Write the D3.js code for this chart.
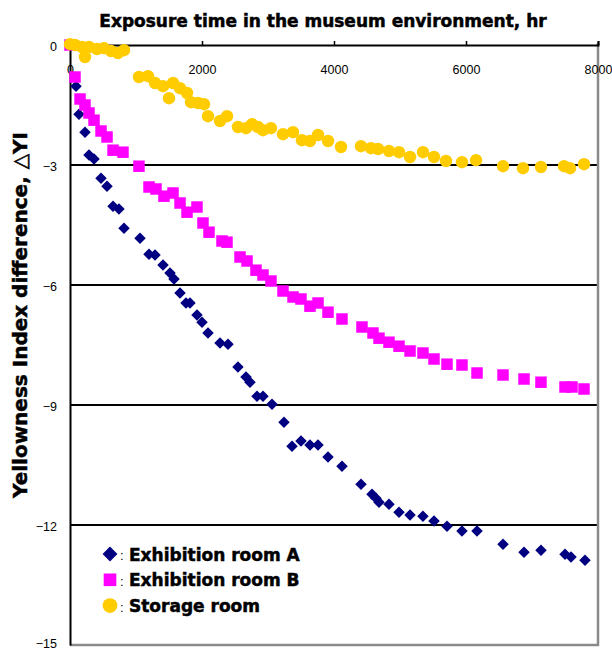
<!DOCTYPE html>
<html>
<head>
<meta charset="utf-8">
<script src="https://cdn.jsdelivr.net/npm/d3@7"></script>
<style>
  body { margin: 0; background: #fff; }
</style>
</head>
<body>
<div id="chart"></div>
<script>
// values
const hoursA = [0, 91, 136, 227, 288, 364, 470, 561, 652, 742, 818, 1061, 1197, 1288, 1409, 1515, 1576, 1667, 1758, 1818,
    1924, 2000, 2091, 2273, 2394, 2545, 2667, 2727, 2833, 2924, 3061, 3242, 3364, 3500, 3636, 3758, 3909, 4121, 4409,
    4576, 4636, 4682, 4833, 4985, 5152, 5348, 5515, 5712, 5939, 6167, 6561, 6879, 7136, 7500, 7591, 7803];
const yiA = [0, -1.03, -1.73, -2.18, -2.75, -2.85, -3.33, -3.53, -4.03, -4.10, -4.58, -4.83, -5.23, -5.25, -5.50, -5.70, -5.85,
    -6.20, -6.45, -6.45, -6.75, -6.93, -7.20, -7.45, -7.48, -8.05, -8.30, -8.43, -8.78, -8.78, -8.98, -9.43, -10.03, -9.90,
    -10.00, -10.00, -10.30, -10.53, -10.98, -11.23, -11.33, -11.43, -11.48, -11.68, -11.75, -11.78, -11.90, -12.03, -12.15,
    -12.15, -12.48, -12.68, -12.63, -12.73, -12.80, -12.88];

const hoursB = [0, 76, 152, 227, 288, 364, 470, 561, 652, 803, 1045, 1197, 1303, 1424, 1561, 1667, 1773, 1924, 2015, 2106,
    2303, 2379, 2576, 2682, 2818, 2924, 3045, 3227, 3379, 3500, 3636, 3758, 3909, 4121, 4424, 4591, 4682, 4833, 4985,
    5152, 5348, 5515, 5712, 5939, 6167, 6561, 6879, 7136, 7500, 7606, 7788];
const yiB = [0, -0.80, -1.35, -1.50, -1.70, -1.88, -2.15, -2.30, -2.63, -2.68, -3.03, -3.55, -3.60, -3.78, -3.70, -3.95, -4.18,
    -4.05, -4.45, -4.68, -4.90, -4.93, -5.30, -5.40, -5.63, -5.75, -5.90, -6.15, -6.30, -6.35, -6.53, -6.45, -6.68, -6.85,
    -7.05, -7.20, -7.33, -7.43, -7.53, -7.65, -7.70, -7.85, -7.98, -8.00, -8.20, -8.25, -8.35, -8.43, -8.55, -8.55, -8.60];

const hoursS = [0, 76, 182, 227, 288, 409, 515, 621, 727, 818, 1045, 1182, 1288, 1409, 1500, 1561, 1667, 1773, 1833, 1939,
    2030, 2091, 2273, 2379, 2545, 2667, 2758, 2848, 2924, 3045, 3227, 3379, 3515, 3636, 3758, 3909, 4106, 4409, 4561,
    4667, 4833, 4985, 5152, 5348, 5515, 5697, 5939, 6152, 6561, 6864, 7136, 7485, 7576, 7788];
const yiS = [0.02, 0, -0.05, -0.30, -0.05, -0.10, -0.08, -0.15, -0.20, -0.13, -0.80, -0.78, -0.95, -1.03, -1.33, -0.95, -1.08,
    -1.20, -1.43, -1.45, -1.48, -1.78, -1.90, -1.78, -2.05, -2.08, -1.98, -2.05, -2.13, -2.08, -2.23, -2.18, -2.38, -2.40,
    -2.25, -2.40, -2.55, -2.53, -2.58, -2.60, -2.65, -2.68, -2.80, -2.68, -2.80, -2.90, -2.93, -2.88, -3.03, -3.08, -3.05,
    -3.03, -3.08, -2.98];

const seriesNames = ["Exhibition room A", "Exhibition room B", "Storage room"];
const xTicks = [0, 2000, 4000, 6000, 8000];
const yTicks = [0, -3, -6, -9, -12, -15];

const width = 612;
const height = 652;

const x = d3.scaleLinear().domain([0, 8000]).range([70, 598]);
const y = d3.scaleLinear().domain([0, -15]).range([45, 645]);

const svg = d3.select('#chart').append('svg')
    .attr('width', width)
    .attr('height', height)
    .style('background', '#fff');

const boldFont = "'DejaVu Sans', sans-serif";
const tickFont = "'Liberation Sans', Arial, sans-serif";

// gridlines
svg.append('g')
   .selectAll('line')
   .data(yTicks.slice(1, -1))
   .enter()
   .append('line')
   .attr('x1', x(0))
   .attr('x2', x(8000))
   .attr('y1', d => y(d))
   .attr('y2', d => y(d))
   .attr('stroke', '#000')
   .attr('stroke-width', 2);

// right and bottom border (grey)
svg.append('path')
   .attr('d', `M${x(8000)},${y(0) - 2}V${y(-15)}H${x(0)}`)
   .attr('fill', 'none')
   .attr('stroke', '#8a8a8a')
   .attr('stroke-width', 2.5);

// x axis on top, labels inside the plot
const xAxis = d3.axisTop(x)
    .tickValues(xTicks)
    .tickSize(4)
    .tickFormat(d3.format('d'));

const gx = svg.append('g')
    .attr('transform', `translate(0,${y(0)})`)
    .call(xAxis);
gx.select('.domain').attr('stroke', '#000').attr('stroke-width', 2);
gx.selectAll('.tick line').attr('stroke', '#000').attr('stroke-width', 1.5);
gx.selectAll('.tick text')
  .attr('y', 29)
  .attr('dy', 0)
  .style('font-family', tickFont)
  .style('font-size', '12.5px')
  .attr('fill', '#000');

// y axis on the left
const yAxis = d3.axisLeft(y)
    .tickValues(yTicks)
    .tickSize(0)
    .tickPadding(13)
    .tickFormat(d3.format('d'));

const gy = svg.append('g')
    .attr('transform', `translate(${x(0)},0)`)
    .call(yAxis);
gy.select('.domain').attr('stroke', '#000').attr('stroke-width', 2);
gy.selectAll('.tick text')
  .attr('dy', d => d === -15 ? '0.2em' : '0.42em')   // last one sits at the bottom edge
  .style('font-family', tickFont)
  .style('font-size', '12.5px')
  .attr('fill', '#000');

// axis titles
svg.append('text')
   .attr('x', 323)
   .attr('y', 27)
   .attr('text-anchor', 'middle')
   .style('font-family', boldFont)
   .style('font-weight', 'bold')
   .style('font-size', '17px')
   .attr('stroke', '#000')
   .attr('stroke-width', 0.5)
   .text('Exposure time in the museum environment, hr');

svg.append('text')
   .attr('transform', 'translate(27,315) rotate(-90)')
   .attr('text-anchor', 'middle')
   .style('font-family', boldFont)
   .style('font-weight', 'bold')
   .style('font-size', '20px')
   .attr('stroke', '#000')
   .attr('stroke-width', 0.5)
   .text('Yellowness Index difference, \u25B3YI');

// markers
const diamond = d3.symbol().type(d3.symbolSquare).size(66);
const square = d3.symbol().type(d3.symbolSquare).size(132);

svg.append('g')
   .selectAll('path')
   .data(d3.zip(hoursA, yiA))
   .enter()
   .append('path')
   .attr('d', diamond)
   .attr('transform', d => `translate(${x(d[0])},${y(d[1])}) rotate(45)`)
   .attr('fill', '#000080');

svg.append('g')
   .selectAll('path')
   .data(d3.zip(hoursB, yiB))
   .enter()
   .append('path')
   .attr('d', square)
   .attr('transform', d => `translate(${x(d[0])},${y(d[1])})`)
   .attr('fill', '#ff00ff');

svg.append('g')
   .selectAll('circle')
   .data(d3.zip(hoursS, yiS))
   .enter()
   .append('circle')
   .attr('cx', d => x(d[0]))
   .attr('cy', d => y(d[1]))
   .attr('r', 6.2)
   .attr('fill', '#ffcc00');

// legend (markers drawn a bit larger than in the plot)
const legDiamond = d3.symbol().type(d3.symbolSquare).size(110);
const legSquare = d3.symbol().type(d3.symbolSquare).size(160);
const legend = svg.append('g').attr('transform', 'translate(110,554)');
seriesNames.forEach(function(name, i) {
    const row = legend.append('g').attr('transform', `translate(0,${i * 25.8})`);
    if (i === 0) {
        row.append('path').attr('d', legDiamond).attr('transform', 'rotate(45)').attr('fill', '#000080');
    } else if (i === 1) {
        row.append('path').attr('d', legSquare).attr('fill', '#ff00ff');
    } else {
        row.append('circle').attr('r', 7.4).attr('fill', '#ffcc00');
    }
    row.append('text')
       .attr('x', 10)
       .attr('y', 6)
       .style('font-family', tickFont)
       .style('font-size', '13px')
       .text(':');
    row.append('text')
       .attr('x', 19)
       .attr('y', 6.5)
       .style('font-family', boldFont)
       .style('font-weight', 'bold')
       .style('font-size', '17px')
       .attr('stroke', '#000')
       .attr('stroke-width', 0.5)
       .text(name);
});
</script>
</body>
</html>
